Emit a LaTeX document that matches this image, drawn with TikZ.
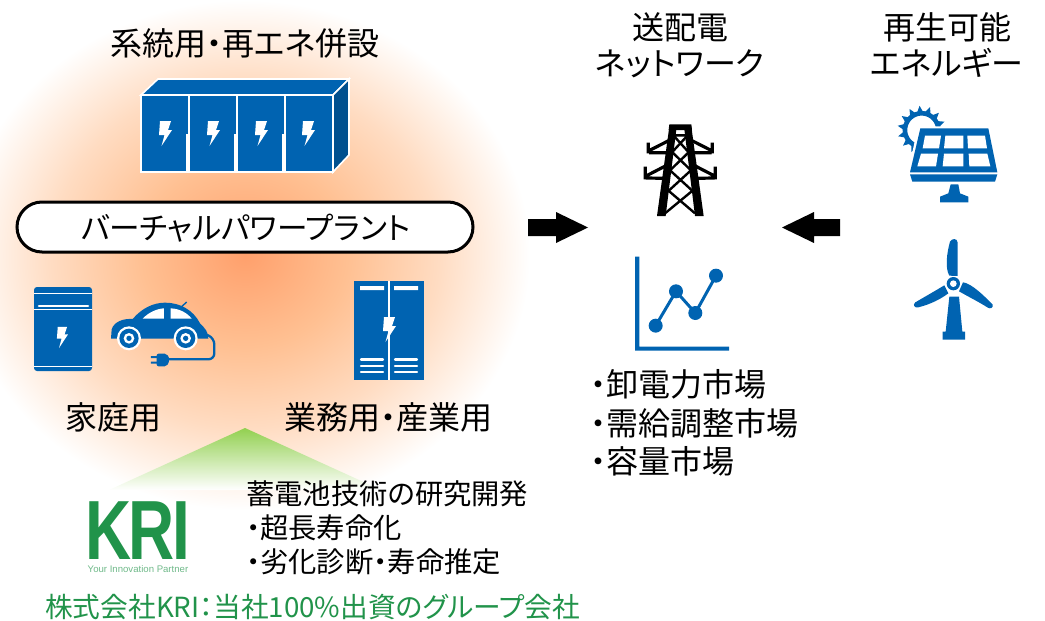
\documentclass[tikz,border=0pt]{standalone}
\usepackage{fontspec}
\setmainfont{Noto Sans CJK JP}[RawFeature={+palt}]
\newfontfamily\logofont{Liberation Sans}
\definecolor{iconblue}{HTML}{0063B1}
\definecolor{icondark}{HTML}{00508F}
\definecolor{krigreen}{HTML}{21934A}
\definecolor{glowa}{HTML}{FFA06C}
\definecolor{glowb}{HTML}{FFC092}
\definecolor{glowc}{HTML}{FFDCC2}
\definecolor{trigreen}{HTML}{92D050}
\pgfdeclareradialshading{glow}{\pgfpoint{0bp}{0bp}}{color(0bp)=(glowa);color(9bp)=(glowb);color(17bp)=(glowc);color(25bp)=(white);color(50bp)=(white)}
\newcommand{\bolt}[3]{\fill[white,shift={(#1,#2)},scale=#3] (-5,-12)--(6,-12)--(3,-3)--(7,-3)--(-3.5,13)--(-0.5,2)--(-6,2)--cycle;}
\tikzset{
  label/.style={inner sep=0pt,align=center,font=\fontsize{32}{36}\selectfont},
  llabel/.style={inner sep=0pt,anchor=west,font=\fontsize{32}{36}\selectfont},
  slabel/.style={inner sep=0pt,anchor=west,font=\fontsize{28.3}{32}\selectfont},
  blockarrow/.style={fill=black,draw=none},
}
\begin{document}
\begin{tikzpicture}[x=1pt,y=-1pt]
\useasboundingbox (0,0) rectangle (1045,621);
\begin{scope}
\clip (0,0) rectangle (1045,621);
\shade[shading=glow] (245,255) ellipse [x radius=285,y radius=255];
\end{scope}
\shade[top color=trigreen,bottom color=white] (245,428)--(381,490)--(109,490)--cycle;

% large rack
\fill[iconblue,draw=white,line width=1.6pt] (141,95)--(158,79)--(349,79)--(333,95)--cycle;
\fill[icondark,draw=white,line width=1.6pt] (333,95)--(349,79)--(349,155)--(333,172)--cycle;
\fill[iconblue,draw=white,line width=1.6pt] (141,95) rectangle (333,172);
\foreach \xa in {189,237,285}{
  \draw[white,line width=1.5pt] (\xa,95)--(\xa,134);
  \draw[white,line width=4.5pt] (\xa-1,134)--(\xa-1,172);
}
\foreach \xb in {165,213,261,308}{\bolt{\xb}{133}{1}}

% home battery
\fill[iconblue,rounded corners=3pt] (34,287) rectangle (92,371);
\draw[white,line width=.8pt] (34,293)--(92,293) (34,309)--(92,309) (34,366)--(92,366);
\draw[white,line width=2.6pt,line cap=round] (39,306)--(88,306);
\bolt{62}{337}{.85}

% car, in 3x coordinates
\begin{scope}[shift={(20,270)},scale=1/3]
\fill[iconblue] (273,206)--(275,178) .. controls (282,155) and (310,145) .. (338,147)
  .. controls (365,115) and (400,98) .. (435,98) .. controls (480,98) and (520,120) .. (540,160)
  .. controls (555,175) and (565,185) .. (565,206)--cycle;
\draw[iconblue,line width=1.4pt] (485,110)--(500,96);
\fill[white] (368,146) .. controls (385,128) and (410,116) .. (432,115)--(432,146)--cycle;
\fill[white] (452,146)--(452,115) .. controls (480,116) and (503,130) .. (515,146)--cycle;
\foreach \cx in {327,497}{
  \fill[white] (\cx,205) circle (36);
  \fill[iconblue] (\cx,205) circle (29);
  \fill[white] (\cx,205) circle (16);
  \fill[iconblue] (\cx,205) circle (8);
}
\draw[iconblue,line width=2.3pt,rounded corners=6pt] (562,195)--(583,205)--(583,268)--(440,268);
\fill[iconblue,rounded corners=2pt] (410,251) -- (428,251) .. controls (440,251) and (447,260) .. (447,269) .. controls (447,280) and (440,289) .. (428,289) -- (410,289)--cycle;
\fill[iconblue] (393,258) rectangle (412,264) (393,275) rectangle (412,281);
\end{scope}

% tall rack
\fill[iconblue] (354,281) rectangle (424,380);
\draw[white,line width=1.6pt] (389,281)--(389,380);
\fill[white] (360,286) rectangle (384,290) (394,286) rectangle (418,290);
\foreach \yv in {359.5,365.7,371.7}{
  \draw[white,line width=2.2pt,line cap=round] (361,\yv)--(383,\yv) (395,\yv)--(417,\yv);
}
\bolt{389}{329}{1}

% rounded label box
\node[draw=black,fill=white,line width=3pt,rounded corners=25pt,minimum width=456pt,minimum height=50pt,inner sep=0pt] (vpp) at (245,227) {};
\node[label,font=\fontsize{30.6}{34}\selectfont] (vpptext) at (246,228) {バーチャルパワープラント};

% block arrows
\fill[blockarrow] (528,219)--(556,219)--(556,212)--(588,227.5)--(556,243)--(556,236)--(528,236)--cycle;
\fill[blockarrow] (840,219)--(814,219)--(814,212)--(782,227.5)--(814,243)--(814,236)--(840,236)--cycle;

% pylon, in 3x coordinates
\begin{scope}[shift={(620,110)},scale=1/3]
\fill[black] (148,43)--(214,43)--(216,60)--(146,60)--cycle;
\fill[black] (148,50)--(170,50)--(137,318)--(111,318)--cycle;
\fill[black] (214,50)--(192,50)--(225,318)--(251,318)--cycle;
\draw[black,line width=2.4pt] (165,76)--(198,76) (160,76)--(207,128) (203,76)--(155,128)
 (155,125)--(214,182) (208,125)--(149,182) (149,180)--(220,245) (214,180)--(143,245)
 (143,240)--(225,310) (220,240)--(135,310);
\foreach \m/\s in {0/1,362/-1}{
 \begin{scope}[shift={(\m,0)},xscale=\s]
 \draw[black,line width=3.2pt] (85,98)--(85,130) (87,122)--(146,92) (87,128)--(146,128);
 \draw[black,line width=3.2pt] (76,170)--(76,208) (78,198)--(142,165) (78,204)--(140,205);
 \end{scope}
}
\end{scope}

% chart, in 3x coordinates
\begin{scope}[shift={(620,250)},scale=1/3]
\fill[iconblue] (45,20)--(58,20)--(58,290)--(327,290)--(327,302)--(45,302)--cycle;
\draw[iconblue,line width=3pt] (107,227)--(168,124)--(226,189)--(288,77);
\foreach \px/\py in {107/227,168/124,226/189,288/77}{\fill[iconblue] (\px,\py) circle (21);}
\end{scope}

% solar panel, in 3x coordinates
\begin{scope}[shift={(880,95)},scale=1/3]
\begin{scope}[shift={(125,105)}]
\draw[iconblue,line width=4.6pt] plot[domain=0:250,samples=50] ({-\x}:50);
\foreach \a in {-5,20,...,260}{
  \fill[iconblue] ({-\a-9}:55)--({-\a}:73)--({-\a+9}:55)--cycle;
}
\end{scope}
\fill[white] (114,94)--(331,94)--(360,240)--(82,240)--cycle;
\fill[iconblue] (121,100)--(325,100)--(352,232)--(90,232)--cycle;
\fill[white] (135,122)--(183,122)--(177,160)--(128,160)--cycle;
\fill[white] (196,122)--(250,122)--(250,160)--(192,160)--cycle;
\fill[white] (262,122)--(315,122)--(321,160)--(264,160)--cycle;
\fill[white] (123,176)--(174,176)--(168,214)--(112,214)--cycle;
\fill[white] (192,176)--(250,176)--(250,214)--(188,214)--cycle;
\fill[white] (266,176)--(322,176)--(331,214)--(268,214)--cycle;
\fill[iconblue] (90,238)--(352,238)--(345,260)--(97,260)--cycle;
\fill[iconblue] (212,268)--(235,268)--(240,295)--(265,305)--(265,322)--(180,322)--(180,305)--(205,295)--cycle;
\end{scope}

% wind turbine, in 3x coordinates
\begin{scope}[shift={(890,230)},scale=1/3]
\fill[iconblue] (178,137) .. controls (165,115) and (170,70) .. (180,35) .. controls (186,24) and (202,24) .. (203,38) -- (203,138)--cycle;
\fill[iconblue] (163,166) .. controls (140,180) and (105,200) .. (76,217) .. controls (66,225) and (75,235) .. (85,232) .. controls (125,222) and (155,205) .. (175,190)--cycle;
\fill[iconblue] (219,157) .. controls (245,160) and (285,200) .. (308,224) .. controls (310,235) and (300,238) .. (292,232) .. controls (265,215) and (235,200) .. (207,184)--cycle;
\fill[iconblue] (178,200)--(207,200)--(217,305)--(225,305)--(225,329)--(158,329)--(158,305)--(167,305)--cycle;
\fill[iconblue] (190,161) circle (20);
\fill[white] (190,161) circle (10);
\end{scope}

% texts
\node[label] (t1) at (245,43) {系統用・再エネ併設};
\node[label] (t2) at (680,45) {送配電\\[0pt]ネットワーク};
\node[label] (t3) at (947,45) {再生可能\\[0pt]エネルギー};
\node[label] (t4) at (113,417) {家庭用};
\node[label] (t5) at (388,417) {業務用・産業用};
\node[llabel] (m1) at (590,384) {・卸電力市場};
\node[llabel] (m2) at (590,423) {・需給調整市場};
\node[llabel] (m3) at (590,461) {・容量市場};
\node[slabel] (r1) at (246,494) {蓄電池技術の研究開発};
\node[slabel] (r2) at (246,528) {・超長寿命化};
\node[slabel] (r3) at (246,562) {・劣化診断・寿命推定};
\node[slabel,text=krigreen,font=\fontsize{27.7}{32}\selectfont] (g1) at (45,607) {株式会社KRI：当社100\%出資のグループ会社};
\node[inner sep=0pt,anchor=base,text depth=0pt,text=krigreen,font=\logofont\bfseries\fontsize{84}{84}\selectfont,xscale=.76] (kri) at (138,559) {K\kern-5pt R\kern-2pt I};
\node[inner sep=0pt,text=krigreen!65!white,font=\logofont\fontsize{9.6}{10}\selectfont] (kri2) at (138,569) {Your Innovation Partner};
\end{tikzpicture}
\end{document}
